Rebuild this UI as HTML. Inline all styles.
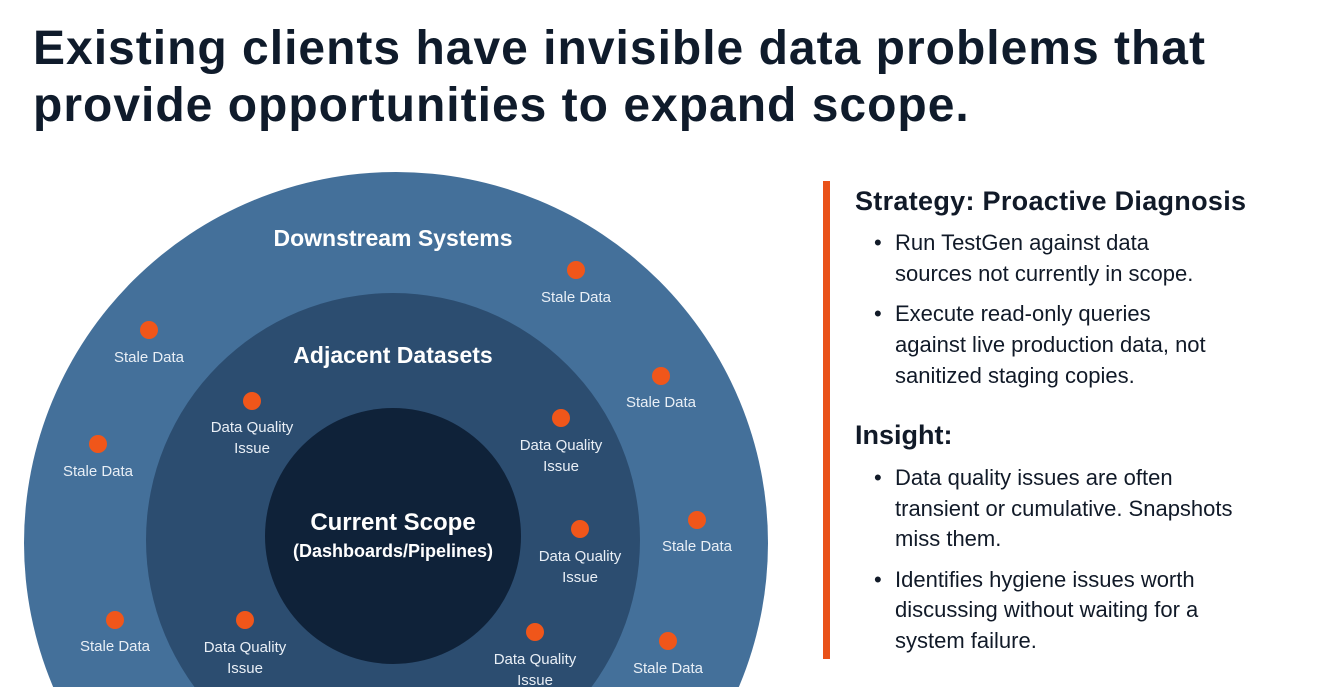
<!DOCTYPE html>
<html><head><meta charset="utf-8"><style>
html,body{margin:0;padding:0;background:#fff;width:1324px;height:687px;overflow:hidden}
svg{display:block}
</style></head><body>
<svg width="1324" height="687" viewBox="0 0 1324 687" xmlns="http://www.w3.org/2000/svg" font-family="Liberation Sans, sans-serif">
<rect width="1324" height="687" fill="#fff"/>
<text x="33" y="64" font-size="48" font-weight="bold" letter-spacing="1.0" fill="#0f1b2b">Existing clients have invisible data problems that</text>
<text x="33" y="121" font-size="48" font-weight="bold" letter-spacing="1.0" fill="#0f1b2b">provide opportunities to expand scope.</text>

<ellipse cx="396" cy="543" rx="372" ry="371" fill="#44709a"/>
<circle cx="393" cy="540" r="247" fill="#2c4d70"/>
<circle cx="393" cy="536" r="128" fill="#0f2239"/>

<g fill="#fff" font-weight="bold" text-anchor="middle">
<text x="393" y="246" font-size="23">Downstream Systems</text>
<text x="393" y="363" font-size="23">Adjacent Datasets</text>
<text x="393" y="530" font-size="24">Current Scope</text>
<text x="393" y="557" font-size="18">(Dashboards/Pipelines)</text>
</g>

<g fill="#f0561a">
<circle cx="576" cy="270" r="9"/><circle cx="149" cy="330" r="9"/><circle cx="661" cy="376" r="9"/>
<circle cx="98" cy="444" r="9"/><circle cx="697" cy="520" r="9"/><circle cx="115" cy="620" r="9"/>
<circle cx="668" cy="641" r="9"/>
<circle cx="252" cy="401" r="9"/><circle cx="561" cy="418" r="9"/><circle cx="580" cy="529" r="9"/>
<circle cx="245" cy="620" r="9"/><circle cx="535" cy="632" r="9"/>
</g>
<g fill="#e9eff6" font-size="15" text-anchor="middle">
<text x="576" y="302">Stale Data</text>
<text x="149" y="362">Stale Data</text>
<text x="661" y="407">Stale Data</text>
<text x="98" y="476">Stale Data</text>
<text x="697" y="551">Stale Data</text>
<text x="115" y="651">Stale Data</text>
<text x="668" y="673">Stale Data</text>
<text x="252" y="432">Data Quality</text><text x="252" y="453">Issue</text>
<text x="561" y="450">Data Quality</text><text x="561" y="471">Issue</text>
<text x="580" y="561">Data Quality</text><text x="580" y="582">Issue</text>
<text x="245" y="652">Data Quality</text><text x="245" y="673">Issue</text>
<text x="535" y="664">Data Quality</text><text x="535" y="685">Issue</text>
</g>

<rect x="823" y="181" width="7" height="478" fill="#e9521a"/>
<g fill="#111a28">
<text x="855" y="210" font-size="27" font-weight="bold" letter-spacing="0.3">Strategy: Proactive Diagnosis</text>
<g font-size="22">
<text x="874" y="250">•</text>
<text x="895" y="250">Run TestGen against data</text>
<text x="895" y="281">sources not currently in scope.</text>
<text x="874" y="321">•</text>
<text x="895" y="321">Execute read-only queries</text>
<text x="895" y="352">against live production data, not</text>
<text x="895" y="383">sanitized staging copies.</text>
</g>
<text x="855" y="444" font-size="27" font-weight="bold">Insight:</text>
<g font-size="22">
<text x="874" y="485">•</text>
<text x="895" y="485">Data quality issues are often</text>
<text x="895" y="516">transient or cumulative. Snapshots</text>
<text x="895" y="546">miss them.</text>
<text x="874" y="587">•</text>
<text x="895" y="587">Identifies hygiene issues worth</text>
<text x="895" y="617">discussing without waiting for a</text>
<text x="895" y="648">system failure.</text>
</g>
</g>
</svg>
</body></html>
